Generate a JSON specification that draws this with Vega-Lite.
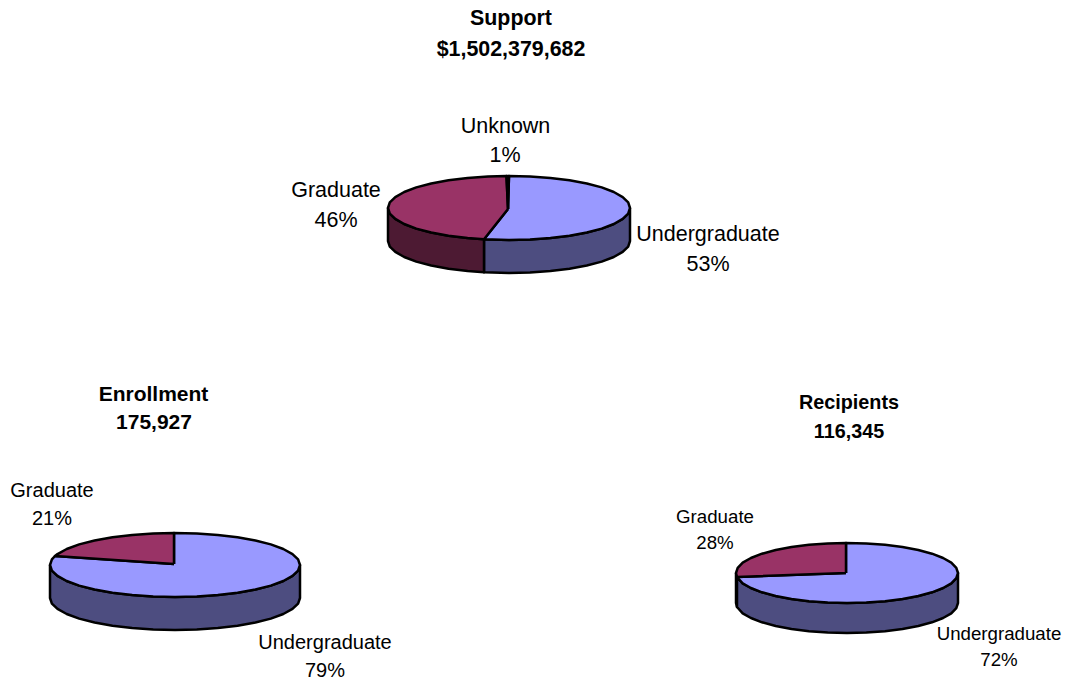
{
"$schema":"https://vega.github.io/schema/vega-lite/v6.json",
"width":1065,"height":681,"padding":0,
"autosize":{"type":"fit","contains":"padding"},
"background":"white",
"config":{"view":{"stroke":null},"text":{"font":"Liberation Sans","color":"#000000"}},
"datasets":{"shapes":[
{"p":"S","f":"Usd","n":0,"x":630,"y":208},{"p":"S","f":"Usd","n":1,"x":628.2,"y":213.6},{"p":"S","f":"Usd","n":2,"x":622.7,"y":218.9},{"p":"S","f":"Usd","n":3,"x":613.8,"y":224},{"p":"S","f":"Usd","n":4,"x":601.7,"y":228.6},{"p":"S","f":"Usd","n":5,"x":586.8,"y":232.5},{"p":"S","f":"Usd","n":6,"x":569.5,"y":235.7},{"p":"S","f":"Usd","n":7,"x":550.4,"y":238.1},{"p":"S","f":"Usd","n":8,"x":530,"y":239.5},{"p":"S","f":"Usd","n":9,"x":509,"y":240},{"p":"S","f":"Usd","n":10,"x":484,"y":239.3},{"p":"S","f":"Usd","n":11,"x":484,"y":272.3},{"p":"S","f":"Usd","n":12,"x":509,"y":273},{"p":"S","f":"Usd","n":13,"x":530,"y":272.5},{"p":"S","f":"Usd","n":14,"x":550.4,"y":271.1},{"p":"S","f":"Usd","n":15,"x":569.5,"y":268.7},{"p":"S","f":"Usd","n":16,"x":586.8,"y":265.5},{"p":"S","f":"Usd","n":17,"x":601.7,"y":261.6},{"p":"S","f":"Usd","n":18,"x":613.8,"y":257},{"p":"S","f":"Usd","n":19,"x":622.7,"y":251.9},{"p":"S","f":"Usd","n":20,"x":628.2,"y":246.6},{"p":"S","f":"Usd","n":21,"x":630,"y":241},{"p":"S","f":"Usd","n":22,"x":630,"y":208},
{"p":"S","f":"Gsd","n":0,"x":484,"y":239.3},{"p":"S","f":"Gsd","n":1,"x":467.6,"y":238.1},{"p":"S","f":"Gsd","n":2,"x":448.5,"y":235.7},{"p":"S","f":"Gsd","n":3,"x":431.2,"y":232.5},{"p":"S","f":"Gsd","n":4,"x":416.3,"y":228.6},{"p":"S","f":"Gsd","n":5,"x":404.2,"y":224},{"p":"S","f":"Gsd","n":6,"x":395.3,"y":218.9},{"p":"S","f":"Gsd","n":7,"x":389.8,"y":213.6},{"p":"S","f":"Gsd","n":8,"x":388,"y":208},{"p":"S","f":"Gsd","n":9,"x":388,"y":241},{"p":"S","f":"Gsd","n":10,"x":389.8,"y":246.6},{"p":"S","f":"Gsd","n":11,"x":395.3,"y":251.9},{"p":"S","f":"Gsd","n":12,"x":404.2,"y":257},{"p":"S","f":"Gsd","n":13,"x":416.3,"y":261.6},{"p":"S","f":"Gsd","n":14,"x":431.2,"y":265.5},{"p":"S","f":"Gsd","n":15,"x":448.5,"y":268.7},{"p":"S","f":"Gsd","n":16,"x":467.6,"y":271.1},{"p":"S","f":"Gsd","n":17,"x":484,"y":272.3},{"p":"S","f":"Gsd","n":18,"x":484,"y":239.3},
{"p":"S","f":"Utp","n":0,"x":508,"y":209},{"p":"S","f":"Utp","n":1,"x":509,"y":176},{"p":"S","f":"Utp","n":2,"x":530,"y":176.5},{"p":"S","f":"Utp","n":3,"x":550.4,"y":177.9},{"p":"S","f":"Utp","n":4,"x":569.5,"y":180.3},{"p":"S","f":"Utp","n":5,"x":586.8,"y":183.5},{"p":"S","f":"Utp","n":6,"x":601.7,"y":187.4},{"p":"S","f":"Utp","n":7,"x":613.8,"y":192},{"p":"S","f":"Utp","n":8,"x":622.7,"y":197.1},{"p":"S","f":"Utp","n":9,"x":628.2,"y":202.4},{"p":"S","f":"Utp","n":10,"x":630,"y":208},{"p":"S","f":"Utp","n":11,"x":628.2,"y":213.6},{"p":"S","f":"Utp","n":12,"x":622.7,"y":218.9},{"p":"S","f":"Utp","n":13,"x":613.8,"y":224},{"p":"S","f":"Utp","n":14,"x":601.7,"y":228.6},{"p":"S","f":"Utp","n":15,"x":586.8,"y":232.5},{"p":"S","f":"Utp","n":16,"x":569.5,"y":235.7},{"p":"S","f":"Utp","n":17,"x":550.4,"y":238.1},{"p":"S","f":"Utp","n":18,"x":530,"y":239.5},{"p":"S","f":"Utp","n":19,"x":509,"y":240},{"p":"S","f":"Utp","n":20,"x":484,"y":239.3},{"p":"S","f":"Utp","n":21,"x":508,"y":209},
{"p":"S","f":"Gtp","n":0,"x":508,"y":209},{"p":"S","f":"Gtp","n":1,"x":484,"y":239.3},{"p":"S","f":"Gtp","n":2,"x":467.6,"y":238.1},{"p":"S","f":"Gtp","n":3,"x":448.5,"y":235.7},{"p":"S","f":"Gtp","n":4,"x":431.2,"y":232.5},{"p":"S","f":"Gtp","n":5,"x":416.3,"y":228.6},{"p":"S","f":"Gtp","n":6,"x":404.2,"y":224},{"p":"S","f":"Gtp","n":7,"x":395.3,"y":218.9},{"p":"S","f":"Gtp","n":8,"x":389.8,"y":213.6},{"p":"S","f":"Gtp","n":9,"x":388,"y":208},{"p":"S","f":"Gtp","n":10,"x":389.8,"y":202.4},{"p":"S","f":"Gtp","n":11,"x":395.3,"y":197.1},{"p":"S","f":"Gtp","n":12,"x":404.2,"y":192},{"p":"S","f":"Gtp","n":13,"x":416.3,"y":187.4},{"p":"S","f":"Gtp","n":14,"x":431.2,"y":183.5},{"p":"S","f":"Gtp","n":15,"x":448.5,"y":180.3},{"p":"S","f":"Gtp","n":16,"x":467.6,"y":177.9},{"p":"S","f":"Gtp","n":17,"x":488,"y":176.5},{"p":"S","f":"Gtp","n":18,"x":506.5,"y":176},{"p":"S","f":"Gtp","n":19,"x":508,"y":209},
{"p":"S","f":"Ktp","n":0,"x":508,"y":209},{"p":"S","f":"Ktp","n":1,"x":506.5,"y":176},{"p":"S","f":"Ktp","n":2,"x":509,"y":176},{"p":"S","f":"Ktp","n":3,"x":508,"y":209},
{"p":"E","f":"Usd","n":0,"x":50,"y":565},{"p":"E","f":"Usd","n":1,"x":51.9,"y":570.6},{"p":"E","f":"Usd","n":2,"x":57.5,"y":575.9},{"p":"E","f":"Usd","n":3,"x":66.7,"y":581},{"p":"E","f":"Usd","n":4,"x":79.2,"y":585.6},{"p":"E","f":"Usd","n":5,"x":94.6,"y":589.5},{"p":"E","f":"Usd","n":6,"x":112.5,"y":592.7},{"p":"E","f":"Usd","n":7,"x":132.2,"y":595.1},{"p":"E","f":"Usd","n":8,"x":153.2,"y":596.5},{"p":"E","f":"Usd","n":9,"x":175,"y":597},{"p":"E","f":"Usd","n":10,"x":196.8,"y":596.5},{"p":"E","f":"Usd","n":11,"x":217.8,"y":595.1},{"p":"E","f":"Usd","n":12,"x":237.5,"y":592.7},{"p":"E","f":"Usd","n":13,"x":255.4,"y":589.5},{"p":"E","f":"Usd","n":14,"x":270.8,"y":585.6},{"p":"E","f":"Usd","n":15,"x":283.3,"y":581},{"p":"E","f":"Usd","n":16,"x":292.5,"y":575.9},{"p":"E","f":"Usd","n":17,"x":298.1,"y":570.6},{"p":"E","f":"Usd","n":18,"x":300,"y":565},{"p":"E","f":"Usd","n":19,"x":300,"y":598},{"p":"E","f":"Usd","n":20,"x":298.1,"y":603.6},{"p":"E","f":"Usd","n":21,"x":292.5,"y":608.9},{"p":"E","f":"Usd","n":22,"x":283.3,"y":614},{"p":"E","f":"Usd","n":23,"x":270.8,"y":618.6},{"p":"E","f":"Usd","n":24,"x":255.4,"y":622.5},{"p":"E","f":"Usd","n":25,"x":237.5,"y":625.7},{"p":"E","f":"Usd","n":26,"x":217.8,"y":628.1},{"p":"E","f":"Usd","n":27,"x":196.8,"y":629.5},{"p":"E","f":"Usd","n":28,"x":175,"y":630},{"p":"E","f":"Usd","n":29,"x":153.2,"y":629.5},{"p":"E","f":"Usd","n":30,"x":132.2,"y":628.1},{"p":"E","f":"Usd","n":31,"x":112.5,"y":625.7},{"p":"E","f":"Usd","n":32,"x":94.6,"y":622.5},{"p":"E","f":"Usd","n":33,"x":79.2,"y":618.6},{"p":"E","f":"Usd","n":34,"x":66.7,"y":614},{"p":"E","f":"Usd","n":35,"x":57.5,"y":608.9},{"p":"E","f":"Usd","n":36,"x":51.9,"y":603.6},{"p":"E","f":"Usd","n":37,"x":50,"y":598},{"p":"E","f":"Usd","n":38,"x":50,"y":565},
{"p":"E","f":"Utp","n":0,"x":174,"y":564},{"p":"E","f":"Utp","n":1,"x":55,"y":556},{"p":"E","f":"Utp","n":2,"x":51.9,"y":559.4},{"p":"E","f":"Utp","n":3,"x":50,"y":565},{"p":"E","f":"Utp","n":4,"x":51.9,"y":570.6},{"p":"E","f":"Utp","n":5,"x":57.5,"y":575.9},{"p":"E","f":"Utp","n":6,"x":66.7,"y":581},{"p":"E","f":"Utp","n":7,"x":79.2,"y":585.6},{"p":"E","f":"Utp","n":8,"x":94.6,"y":589.5},{"p":"E","f":"Utp","n":9,"x":112.5,"y":592.7},{"p":"E","f":"Utp","n":10,"x":132.2,"y":595.1},{"p":"E","f":"Utp","n":11,"x":153.2,"y":596.5},{"p":"E","f":"Utp","n":12,"x":175,"y":597},{"p":"E","f":"Utp","n":13,"x":196.8,"y":596.5},{"p":"E","f":"Utp","n":14,"x":217.8,"y":595.1},{"p":"E","f":"Utp","n":15,"x":237.5,"y":592.7},{"p":"E","f":"Utp","n":16,"x":255.4,"y":589.5},{"p":"E","f":"Utp","n":17,"x":270.8,"y":585.6},{"p":"E","f":"Utp","n":18,"x":283.3,"y":581},{"p":"E","f":"Utp","n":19,"x":292.5,"y":575.9},{"p":"E","f":"Utp","n":20,"x":298.1,"y":570.6},{"p":"E","f":"Utp","n":21,"x":300,"y":565},{"p":"E","f":"Utp","n":22,"x":298.1,"y":559.4},{"p":"E","f":"Utp","n":23,"x":292.5,"y":554.1},{"p":"E","f":"Utp","n":24,"x":283.3,"y":549},{"p":"E","f":"Utp","n":25,"x":270.8,"y":544.4},{"p":"E","f":"Utp","n":26,"x":255.4,"y":540.5},{"p":"E","f":"Utp","n":27,"x":237.5,"y":537.3},{"p":"E","f":"Utp","n":28,"x":217.8,"y":534.9},{"p":"E","f":"Utp","n":29,"x":196.8,"y":533.5},{"p":"E","f":"Utp","n":30,"x":174,"y":533},{"p":"E","f":"Utp","n":31,"x":174,"y":564},
{"p":"E","f":"Gtp","n":0,"x":174,"y":564},{"p":"E","f":"Gtp","n":1,"x":174,"y":533},{"p":"E","f":"Gtp","n":2,"x":153.2,"y":533.5},{"p":"E","f":"Gtp","n":3,"x":132.2,"y":534.9},{"p":"E","f":"Gtp","n":4,"x":112.5,"y":537.3},{"p":"E","f":"Gtp","n":5,"x":94.6,"y":540.5},{"p":"E","f":"Gtp","n":6,"x":79.2,"y":544.4},{"p":"E","f":"Gtp","n":7,"x":66.7,"y":549},{"p":"E","f":"Gtp","n":8,"x":57.5,"y":554.1},{"p":"E","f":"Gtp","n":9,"x":55,"y":556},{"p":"E","f":"Gtp","n":10,"x":174,"y":564},
{"p":"R","f":"Gsd","n":0,"x":736,"y":573},{"p":"R","f":"Gsd","n":1,"x":737,"y":577},{"p":"R","f":"Gsd","n":2,"x":737,"y":607},{"p":"R","f":"Gsd","n":3,"x":736,"y":603},{"p":"R","f":"Gsd","n":4,"x":736,"y":573},
{"p":"R","f":"Usd","n":0,"x":737,"y":577},{"p":"R","f":"Usd","n":1,"x":742.7,"y":583.3},{"p":"R","f":"Usd","n":2,"x":750.9,"y":588},{"p":"R","f":"Usd","n":3,"x":762,"y":592.3},{"p":"R","f":"Usd","n":4,"x":775.7,"y":596},{"p":"R","f":"Usd","n":5,"x":791.5,"y":599},{"p":"R","f":"Usd","n":6,"x":809,"y":601.2},{"p":"R","f":"Usd","n":7,"x":827.7,"y":602.5},{"p":"R","f":"Usd","n":8,"x":847,"y":603},{"p":"R","f":"Usd","n":9,"x":866.3,"y":602.5},{"p":"R","f":"Usd","n":10,"x":885,"y":601.2},{"p":"R","f":"Usd","n":11,"x":902.5,"y":599},{"p":"R","f":"Usd","n":12,"x":918.3,"y":596},{"p":"R","f":"Usd","n":13,"x":932,"y":592.3},{"p":"R","f":"Usd","n":14,"x":943.1,"y":588},{"p":"R","f":"Usd","n":15,"x":951.3,"y":583.3},{"p":"R","f":"Usd","n":16,"x":956.3,"y":578.2},{"p":"R","f":"Usd","n":17,"x":958,"y":573},{"p":"R","f":"Usd","n":18,"x":958,"y":603},{"p":"R","f":"Usd","n":19,"x":956.3,"y":608.2},{"p":"R","f":"Usd","n":20,"x":951.3,"y":613.3},{"p":"R","f":"Usd","n":21,"x":943.1,"y":618},{"p":"R","f":"Usd","n":22,"x":932,"y":622.3},{"p":"R","f":"Usd","n":23,"x":918.3,"y":626},{"p":"R","f":"Usd","n":24,"x":902.5,"y":629},{"p":"R","f":"Usd","n":25,"x":885,"y":631.2},{"p":"R","f":"Usd","n":26,"x":866.3,"y":632.5},{"p":"R","f":"Usd","n":27,"x":847,"y":633},{"p":"R","f":"Usd","n":28,"x":827.7,"y":632.5},{"p":"R","f":"Usd","n":29,"x":809,"y":631.2},{"p":"R","f":"Usd","n":30,"x":791.5,"y":629},{"p":"R","f":"Usd","n":31,"x":775.7,"y":626},{"p":"R","f":"Usd","n":32,"x":762,"y":622.3},{"p":"R","f":"Usd","n":33,"x":750.9,"y":618},{"p":"R","f":"Usd","n":34,"x":742.7,"y":613.3},{"p":"R","f":"Usd","n":35,"x":737,"y":607},{"p":"R","f":"Usd","n":36,"x":737,"y":577},
{"p":"R","f":"Utp","n":0,"x":846,"y":573},{"p":"R","f":"Utp","n":1,"x":737,"y":577},{"p":"R","f":"Utp","n":2,"x":742.7,"y":583.3},{"p":"R","f":"Utp","n":3,"x":750.9,"y":588},{"p":"R","f":"Utp","n":4,"x":762,"y":592.3},{"p":"R","f":"Utp","n":5,"x":775.7,"y":596},{"p":"R","f":"Utp","n":6,"x":791.5,"y":599},{"p":"R","f":"Utp","n":7,"x":809,"y":601.2},{"p":"R","f":"Utp","n":8,"x":827.7,"y":602.5},{"p":"R","f":"Utp","n":9,"x":847,"y":603},{"p":"R","f":"Utp","n":10,"x":866.3,"y":602.5},{"p":"R","f":"Utp","n":11,"x":885,"y":601.2},{"p":"R","f":"Utp","n":12,"x":902.5,"y":599},{"p":"R","f":"Utp","n":13,"x":918.3,"y":596},{"p":"R","f":"Utp","n":14,"x":932,"y":592.3},{"p":"R","f":"Utp","n":15,"x":943.1,"y":588},{"p":"R","f":"Utp","n":16,"x":951.3,"y":583.3},{"p":"R","f":"Utp","n":17,"x":956.3,"y":578.2},{"p":"R","f":"Utp","n":18,"x":958,"y":573},{"p":"R","f":"Utp","n":19,"x":956.3,"y":567.8},{"p":"R","f":"Utp","n":20,"x":951.3,"y":562.7},{"p":"R","f":"Utp","n":21,"x":943.1,"y":558},{"p":"R","f":"Utp","n":22,"x":932,"y":553.7},{"p":"R","f":"Utp","n":23,"x":918.3,"y":550},{"p":"R","f":"Utp","n":24,"x":902.5,"y":547},{"p":"R","f":"Utp","n":25,"x":885,"y":544.8},{"p":"R","f":"Utp","n":26,"x":866.3,"y":543.5},{"p":"R","f":"Utp","n":27,"x":846,"y":543},{"p":"R","f":"Utp","n":28,"x":846,"y":573},
{"p":"R","f":"Gtp","n":0,"x":846,"y":573},{"p":"R","f":"Gtp","n":1,"x":846,"y":543},{"p":"R","f":"Gtp","n":2,"x":827.7,"y":543.5},{"p":"R","f":"Gtp","n":3,"x":809,"y":544.8},{"p":"R","f":"Gtp","n":4,"x":791.5,"y":547},{"p":"R","f":"Gtp","n":5,"x":775.7,"y":550},{"p":"R","f":"Gtp","n":6,"x":762,"y":553.7},{"p":"R","f":"Gtp","n":7,"x":750.9,"y":558},{"p":"R","f":"Gtp","n":8,"x":742.7,"y":562.7},{"p":"R","f":"Gtp","n":9,"x":737.7,"y":567.8},{"p":"R","f":"Gtp","n":10,"x":736,"y":573},{"p":"R","f":"Gtp","n":11,"x":737,"y":577},{"p":"R","f":"Gtp","n":12,"x":846,"y":573}
]},
"layer":[
{"data":{"name":"shapes"},
 "mark":{"type":"line","strokeWidth":2.5,"stroke":"#000000","strokeJoin":"round","interpolate":"linear"},
 "encoding":{
  "x":{"field":"x","type":"quantitative","scale":{"domain":[0,1065],"nice":false,"zero":false},"axis":null},
  "y":{"field":"y","type":"quantitative","scale":{"domain":[681,0],"nice":false,"zero":false},"axis":null},
  "order":{"field":"n","type":"quantitative"},
  "detail":{"field":"p"},
  "fill":{"field":"f","type":"nominal","legend":null,"scale":{"domain":["Utp","Gtp","Ktp","Usd","Gsd"],"range":["#9999ff","#993366","#000000","#4d4d80","#4d1a33"]}}
 }},
{"data":{"values":[{"t":"Support","x":511,"y":19},{"t":"$1,502,379,682","x":511,"y":50}]},
 "mark":{"type":"text","fontWeight":"bold","fontSize":21.4,"align":"center","baseline":"middle"},
 "encoding":{"x":{"field":"x","type":"quantitative"},"y":{"field":"y","type":"quantitative"},"text":{"field":"t"}}},
{"data":{"values":[{"t":"Enrollment","x":153.5,"y":395},{"t":"175,927","x":154,"y":423}]},
 "mark":{"type":"text","fontWeight":"bold","fontSize":21,"align":"center","baseline":"middle"},
 "encoding":{"x":{"field":"x","type":"quantitative"},"y":{"field":"y","type":"quantitative"},"text":{"field":"t"}}},
{"data":{"values":[{"t":"Recipients","x":849,"y":403},{"t":"116,345","x":849,"y":432}]},
 "mark":{"type":"text","fontWeight":"bold","fontSize":19.8,"align":"center","baseline":"middle"},
 "encoding":{"x":{"field":"x","type":"quantitative"},"y":{"field":"y","type":"quantitative"},"text":{"field":"t"}}},
{"data":{"values":[{"t":"Unknown","x":505.5,"y":127},{"t":"1%","x":505,"y":156},{"t":"Graduate","x":336,"y":191},{"t":"46%","x":336,"y":221},{"t":"Undergraduate","x":708,"y":235},{"t":"53%","x":708,"y":265}]},
 "mark":{"type":"text","fontSize":21.5,"align":"center","baseline":"middle"},
 "encoding":{"x":{"field":"x","type":"quantitative"},"y":{"field":"y","type":"quantitative"},"text":{"field":"t"}}},
{"data":{"values":[{"t":"Graduate","x":52,"y":491},{"t":"21%","x":52,"y":519},{"t":"Undergraduate","x":325,"y":643},{"t":"79%","x":325,"y":671}]},
 "mark":{"type":"text","fontSize":20,"align":"center","baseline":"middle"},
 "encoding":{"x":{"field":"x","type":"quantitative"},"y":{"field":"y","type":"quantitative"},"text":{"field":"t"}}},
{"data":{"values":[{"t":"Graduate","x":715,"y":517},{"t":"28%","x":715,"y":543},{"t":"Undergraduate","x":999,"y":634},{"t":"72%","x":999,"y":660}]},
 "mark":{"type":"text","fontSize":18.7,"align":"center","baseline":"middle"},
 "encoding":{"x":{"field":"x","type":"quantitative"},"y":{"field":"y","type":"quantitative"},"text":{"field":"t"}}}
]
}
